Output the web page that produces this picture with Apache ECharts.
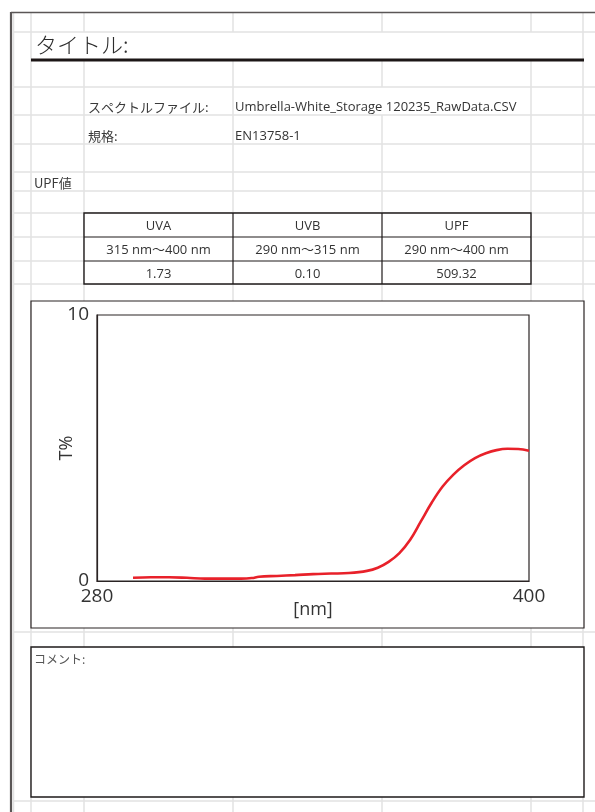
<!DOCTYPE html>
<html>
<head>
<meta charset="utf-8">
<script src="https://cdn.jsdelivr.net/npm/echarts@6/dist/echarts.min.js"></script>
<style>
html,body{margin:0;padding:0;background:#fff;}
#c{width:595px;height:812px;}
</style>
</head>
<body>
<div id="c"></div>
<script>
// ---- data ----
const wavelengths = [290, 295, 300, 305, 310, 315, 320, 323, 325, 330, 335, 340, 345, 350, 355, 358, 361, 364, 367, 370, 373, 376, 379, 382, 385, 388, 391, 394, 397, 400];
const transmittance = [0.12, 0.14, 0.14, 0.12, 0.09, 0.09, 0.09, 0.11, 0.16, 0.19, 0.22, 0.26, 0.28, 0.30, 0.38, 0.50, 0.72, 1.05, 1.55, 2.25, 2.95, 3.55, 4.00, 4.35, 4.62, 4.80, 4.92, 4.97, 4.96, 4.90];
const xTicks = [280, 400];
const yTicks = [0, 10];
const titleText = 'タイトル:';
const infoLabels = ['スペクトルファイル:', '規格:'];
const infoValues = ['Umbrella-White_Storage 120235_RawData.CSV', 'EN13758-1'];
const sectionLabel = 'UPF値';
const tableHeader = ['UVA', 'UVB', 'UPF'];
const tableRanges = ['315 nm〜400 nm', '290 nm〜315 nm', '290 nm〜400 nm'];
const tableValues = ['1.73', '0.10', '509.32'];
const commentLabel = 'コメント:';

// ---- layout (decorations) ----
const JP = "'Noto Sans CJK JP', 'Noto Sans', sans-serif";
const LAT = "'Open Sans', 'Noto Sans CJK JP', sans-serif";
const gridColor = '#e2e2e2';
const colX = [31, 84, 233, 382, 531, 583];
const rowY = [32, 87, 115, 144, 172, 191, 213, 237, 261, 284, 632, 801];
const els = [];
function line(x1, y1, x2, y2, color, w, z) {
  els.push({type:'line', z: z||0, shape:{x1, y1, x2, y2}, style:{stroke:color, lineWidth:w}, silent:true});
}
function text(x, y, t, opt) {
  els.push({type:'text', z: 5, x, y, style: Object.assign({text:t, fill:'#3a3a3a', font:'13px ' + JP, textVerticalAlign:'middle'}, opt||{})});
}
// horizontal gridlines
rowY.forEach(y => line(13, y, 595, y, gridColor, 1.5));
// vertical gridlines (title row merged)
colX.forEach(x => {
  if (x === 31 || x === 583) { line(x, 12, x, 812, gridColor, 1.5); }
  else {
    line(x, 12, x, 32, gridColor, 1.5);
    if (x === 382) { line(x, 60, x, 87, gridColor, 1.5); line(x, 115, x, 812, gridColor, 1.5); }
    else line(x, 60, x, 812, gridColor, 1.5);
  }
});
line(13.5, 12, 13.5, 812, gridColor, 1.5);
// sheet border
line(11, 12, 11, 812, '#5a5656', 2.2, 2);
line(11, 12.5, 595, 12.5, '#5a5656', 1.5, 2);
// title underline
line(31, 60, 584, 60, '#1c1616', 3.2, 2);
// title
text(35, 45, titleText, {font:'300 22px ' + JP, fill:'#2c2c2c'});
// info rows
text(88, 107, infoLabels[0]); text(235, 107, infoValues[0], {font:'13px ' + LAT, fill:'#333'});
text(88, 136, infoLabels[1]); text(235, 136, infoValues[1], {font:'13px ' + LAT, fill:'#333'});
text(34, 183, sectionLabel);
// table
els.push({type:'rect', z:1, shape:{x:84, y:213, width:447, height:71}, style:{fill:'#fff', stroke:'#1e1a1a', lineWidth:1.4}});
line(84, 237, 531, 237, '#1e1a1a', 1.2, 2);
line(84, 261, 531, 261, '#1e1a1a', 1.2, 2);
line(233, 213, 233, 284, '#1e1a1a', 1.2, 2);
line(382, 213, 382, 284, '#1e1a1a', 1.2, 2);
const cx = [158.5, 307.5, 456.5];
[tableHeader, tableRanges, tableValues].forEach((row, ri) => {
  row.forEach((t, ci) => text(cx[ci], 226 + ri * 24, t, {font:'13px ' + LAT, textAlign:'center', fill:'#333'}));
});
// chart box
els.push({type:'rect', z:1, shape:{x:31, y:301, width:553, height:327}, style:{fill:'#fff', stroke:'#2a2424', lineWidth:1.2}});
// comment box
els.push({type:'rect', z:1, shape:{x:31, y:647, width:553, height:150}, style:{fill:'#fff', stroke:'#1e1a1a', lineWidth:1.4}});
text(34, 659, commentLabel, {font:'12px ' + JP, fill:'#555'});

const chart = echarts.init(document.getElementById('c'), null, {renderer:'canvas'});
chart.setOption({
  animation: false,
  backgroundColor: '#fff',
  graphic: {elements: els},
  grid: {left: 97, top: 315, width: 432, height: 266, show: true, borderColor: '#2a2424', borderWidth: 1.2, backgroundColor: '#fff', z: 3},
  xAxis: {
    type: 'value', min: 280, max: 400, interval: 40, z: 8,
    name: '[nm]', nameLocation: 'middle', nameGap: 20, nameMoveOverlap: false,
    nameTextStyle: {fontFamily: LAT, fontSize: 18, color: '#333', verticalAlign: 'top'},
    axisLine: {show: true, lineStyle: {color: '#2a2424', width: 1.2}},
    axisTick: {show: false}, splitLine: {show: false},
    axisLabel: {margin: 6, fontFamily: LAT, fontSize: 19, color: '#333',
      formatter: v => xTicks.includes(v) ? String(v) : ''}
  },
  yAxis: {
    type: 'value', min: 0, max: 10, interval: 10, z: 8,
    name: 'T%', nameLocation: 'middle', nameGap: 21, nameRotate: 90, nameMoveOverlap: false,
    nameTextStyle: {fontFamily: LAT, fontSize: 18, color: '#333'},
    axisLine: {show: true, lineStyle: {color: '#2a2424', width: 1.2}},
    axisTick: {show: false}, splitLine: {show: false},
    axisLabel: {margin: 8, fontFamily: LAT, fontSize: 19, color: '#333',
      formatter: v => yTicks.includes(v) ? String(v) : ''}
  },
  series: [{
    type: 'line', z: 6,
    data: wavelengths.map((w, i) => [w, transmittance[i]]),
    smooth: 0.4, showSymbol: false,
    lineStyle: {color: '#e8212a', width: 2.6}
  }]
});
</script>
</body>
</html>
